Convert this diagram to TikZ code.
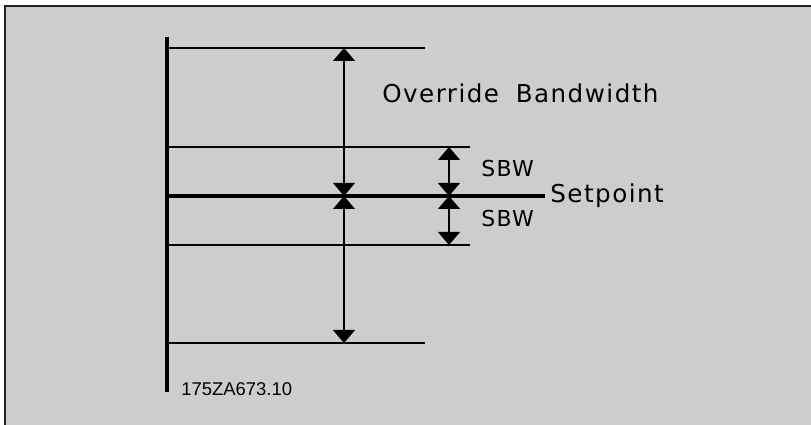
\documentclass[tikz,border=0pt]{standalone}
\usepackage{fontspec}
\usepackage{xcolor}
\usepackage{tikz}
\usetikzlibrary{arrows.meta, positioning, calc}
\newfontfamily\drawfont[LetterSpace=6]{DejaVu Sans}
\newfontfamily\idfont{Liberation Sans}
\definecolor{panel}{HTML}{CDCDCD}
\definecolor{frameline}{HTML}{222222}

\begin{document}
\begin{tikzpicture}[
    x=0.02cm, y=-0.02cm,
    lbl/.style={inner sep=0pt, anchor=base west, font=\drawfont\fontsize{14}{16}\selectfont},
    sbw/.style={inner sep=0pt, anchor=base west, font=\drawfont\fontsize{12.5}{14}\selectfont},
    level/.style={line width=0.8pt},
    axis/.style={line width=2.7pt},
    dim/.style={{Triangle[width=12.5pt,length=7.4pt]}-{Triangle[width=12.5pt,length=7.4pt]}, line width=0.8pt},
  ]

  % background panel and frame
  \useasboundingbox (0,0) rectangle (811,425);
  \fill[white] (0,0) rectangle (811,425);
  \fill[panel] (5,6) rectangle (811,425);
  \draw[frameline, line width=1.2pt] (5,425) -- (5,6) -- (811,6);

  % levels
  \coordinate (ovtop) at (344,48);
  \coordinate (sbwtop) at (449,147);
  \coordinate (spa) at (344,196);
  \coordinate (spb) at (449,196);
  \coordinate (sbwbot) at (449,245);
  \coordinate (ovbot) at (344,343);

  % vertical axis and setpoint line
  \draw[axis] (167,37) -- (167,392);
  \draw[axis] (169,196) -- (545,196) coordinate (spend);

  \draw[level] (169,48)  -- (425,48);
  \draw[level] (169,147) -- (470,147);
  \draw[level] (169,245) -- (470,245);
  \draw[level] (169,343) -- (425,343);

  % override bandwidth arrows
  \draw[dim] (ovtop) -- (spa);
  \draw[dim] (spa) -- (ovbot);

  % SBW arrows
  \draw[dim] (sbwtop) -- (spb);
  \draw[dim] (spb) -- (sbwbot);

  % labels
  \node[lbl] (ovlbl) at (382,103) {Override\hspace{0.3em} Bandwidth};
  \node[sbw] (sbwup) at (481,177) {SBW};
  \node[sbw] (sbwdn) at (481,227) {SBW};
  \node[lbl] (setpt) at (550,203) {Setpoint};
  \node[inner sep=0pt, anchor=base west, font=\idfont\fontsize{10.5}{12}\selectfont] (figid) at (181,396) {175ZA673.10};

\end{tikzpicture}
\end{document}
